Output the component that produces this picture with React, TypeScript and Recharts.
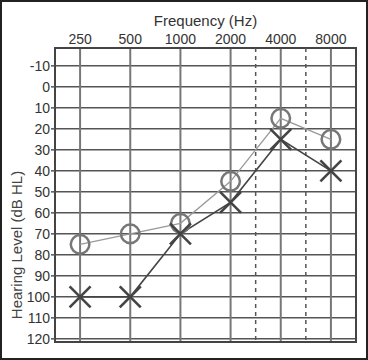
import React from 'react';
import {
  ComposedChart,
  Line,
  XAxis,
  YAxis,
  CartesianGrid,
  ReferenceLine,
  ReferenceArea,
  Label,
} from 'recharts';

const freqLabels = ['250', '500', '1000', '2000', '4000', '8000'];
const rightEar = [75, 70, 65, 45, 15, 25]; // O markers
const leftEar = [100, 100, 70, 55, 25, 40]; // X markers
const yTicks = [-10, 0, 10, 20, 30, 40, 50, 60, 70, 80, 90, 100, 110, 120];
const dashedOctaves = [3.5, 4.5];

const data = freqLabels.map((f, i) => ({ idx: i, freq: f, right: rightEar[i], left: leftEar[i] }));

const FONT = 'Arial, "Liberation Sans", Helvetica, sans-serif';

const CircleDot = (props: any) => {
  const { cx, cy, index } = props;
  if (cx == null || cy == null) return null;
  return <circle key={`c${index}`} cx={cx} cy={cy} r={9.3} fill="none" stroke="#777" strokeWidth={2.5} />;
};

const CrossDot = (props: any) => {
  const { cx, cy, index } = props;
  if (cx == null || cy == null) return null;
  const s = 10.5;
  return (
    <g key={`x${index}`}>
      <line x1={cx - s} y1={cy - s} x2={cx + s} y2={cy + s} stroke="#444" strokeWidth={2.6} />
      <line x1={cx - s} y1={cy + s} x2={cx + s} y2={cy - s} stroke="#444" strokeWidth={2.6} />
    </g>
  );
};

const YLabel = (props: any) => {
  const vb = props.viewBox || {};
  const x = (vb.x ?? 0) + 16.5;
  const y = (vb.y ?? 0) + (vb.height ?? 0) / 2 + 50;
  return (
    <text
      x={x}
      y={y}
      transform={`rotate(-90, ${x}, ${y})`}
      textAnchor="middle"
      dominantBaseline="central"
      fontFamily={FONT}
      fontSize={15}
      fill="#444"
    >
      Hearing Level (dB HL)
    </text>
  );
};

export default function App() {
  return (
    <div style={{ position: 'absolute', left: 0, top: 0, width: 368, height: 360, background: '#fff' }}>
      <ComposedChart
        width={368}
        height={360}
        data={data}
        margin={{ top: 10, right: 12, bottom: 18, left: 0 }}
        style={{ fontFamily: FONT }}
      >
        <CartesianGrid horizontal={true} vertical={false} stroke="#555" strokeWidth={1.5} strokeOpacity={1} />
        <CartesianGrid horizontal={false} vertical={true} stroke="#777" strokeWidth={2} strokeOpacity={1} />
        <XAxis
          dataKey="idx"
          type="number"
          orientation="top"
          domain={[-0.5, 5.5]}
          ticks={[0, 1, 2, 3, 4, 5]}
          tickFormatter={(v: number) => freqLabels[v] ?? ''}
          height={38}
          tickLine={false}
          tickSize={0}
          tickMargin={4}
          axisLine={false}
          tick={{ fontSize: 14, fill: '#333', fontFamily: FONT }}
          allowDataOverflow
        >
          <Label
            value="Frequency (Hz)"
            position="insideTop"
            offset={5}
            style={{ fontSize: 15, fill: '#333', fontFamily: FONT }}
          />
        </XAxis>
        <YAxis
          type="number"
          reversed
          domain={[-18.5, 121.5]}
          ticks={yTicks}
          interval={0}
          width={55}
          tickSize={4}
          tickMargin={1}
          tickLine={{ stroke: '#555', strokeWidth: 1.5 }}
          axisLine={false}
          tick={{ fontSize: 14, fill: '#333', fontFamily: FONT }}
          allowDataOverflow
        >
          <Label content={YLabel} />
        </YAxis>
        {dashedOctaves.map((x) => (
          <ReferenceLine key={x} x={x} stroke="#555" strokeWidth={1.5} strokeDasharray="4 4" />
        ))}
        <ReferenceArea
          x1={-0.5}
          x2={5.5}
          y1={-18.5}
          y2={121.5}
          fill="none"
          fillOpacity={0}
          stroke="#444"
          strokeWidth={2}
          strokeOpacity={1}
        />
        <Line
          type="linear"
          dataKey="right"
          stroke="#999"
          strokeWidth={1.3}
          dot={CircleDot}
          activeDot={false}
          isAnimationActive={false}
        />
        <Line
          type="linear"
          dataKey="left"
          stroke="#444"
          strokeWidth={1.6}
          dot={CrossDot}
          activeDot={false}
          isAnimationActive={false}
        />
      </ComposedChart>
      <div
        style={{
          position: 'absolute',
          left: 0,
          top: 0,
          width: 368,
          height: 360,
          boxSizing: 'border-box',
          border: '2px solid #222',
          pointerEvents: 'none',
        }}
      />
    </div>
  );
}
